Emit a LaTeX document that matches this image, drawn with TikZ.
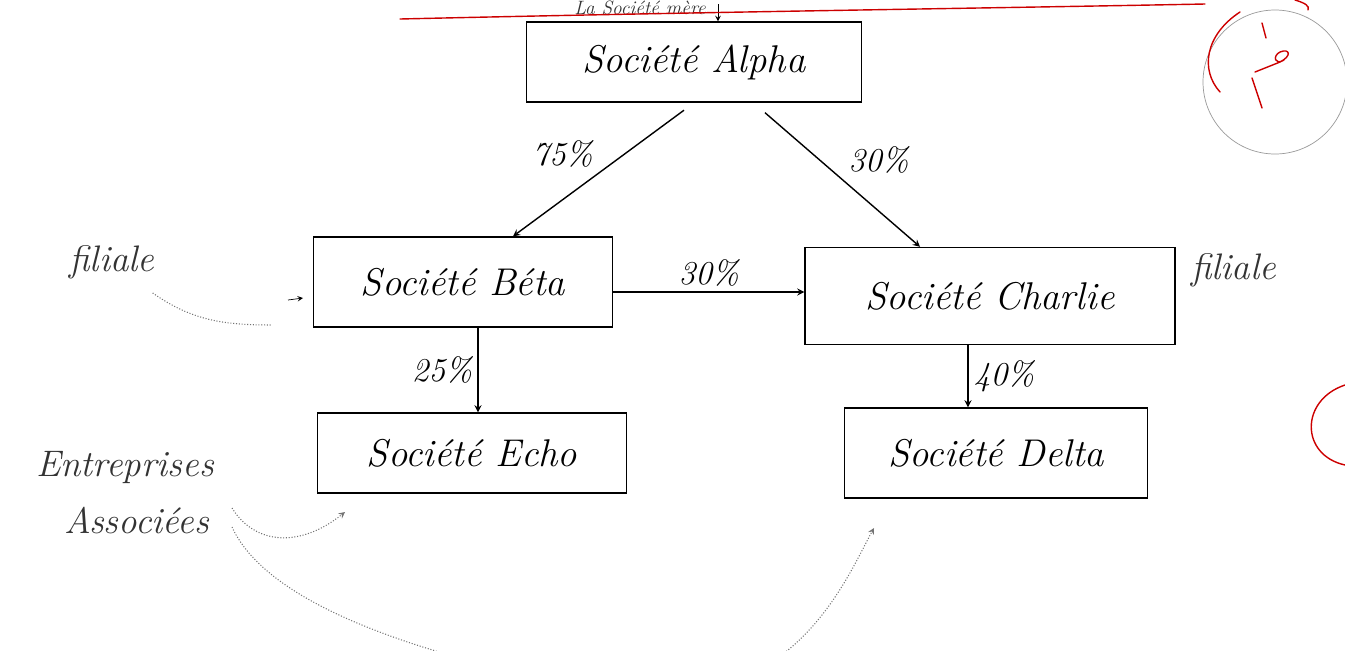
\documentclass[tikz,border=0pt]{standalone}
\usetikzlibrary{positioning,arrows}
\begin{document}
\begin{tikzpicture}[
x=0.02cm,y=-0.02cm,
>=stealth,
societe/.style={
	draw,
	thick,
	rectangle,
	inner sep=0pt,
	font=\fontsize{22}{26}\selectfont\itshape
},
share/.style={
	->,
	thick
},
pct/.style={
	font=\fontsize{19}{22}\selectfont\itshape,
	inner sep=3pt
},
note/.style={
	font=\fontsize{21}{25}\selectfont\itshape,
	text=black!80
},
hint/.style={
	black!55,
	densely dotted,
	semithick
},
correction/.style={
	red!80!black,
	thick,
	line cap=round
}
]
\useasboundingbox (0,0) rectangle (1345,650);

% the companies
\node[societe,minimum width=6.7cm,minimum height=1.6cm] (alpha) at (694,62) {Société Alpha};
\node[societe,minimum width=5.98cm,minimum height=1.8cm] (beta) at (463,282) {Société Béta};
\node[societe,minimum width=7.4cm,minimum height=1.94cm] (charlie) at (990,296) {Société Charlie};
\node[societe,minimum width=6.18cm,minimum height=1.6cm] (echo) at (472,453) {Société Echo};
\node[societe,minimum width=6.06cm,minimum height=1.8cm] (delta) at (996,453) {Société Delta};

% holdings
\draw[share] ([xshift=-0.2cm,yshift=-0.15cm]alpha.south) -- ([xshift=1cm]beta.north)
	node[pct,midway,above left] (p75) {75\%};
\draw[share] ([xshift=1.42cm,yshift=-0.2cm]alpha.south) -- ([xshift=-1.4cm]charlie.north)
	node[pct,midway,above right] (p30a) {30\%};
\draw[share] (beta.east |- 0,292) -- (charlie.west |- 0,292)
	node[pct,midway,above] (p30b) {30\%};
\draw[share] ([xshift=0.3cm]beta.south) -- ([xshift=0.3cm]beta.south |- echo.north)
	node[pct,midway,left] (p25) {25\%};
\draw[share] ([xshift=-0.44cm]charlie.south) -- ([xshift=-0.44cm]charlie.south |- delta.north)
	node[pct,midway,right] (p40) {40\%};

% notes in the margin
\node[note,font=\fontsize{11}{13}\selectfont\itshape,inner sep=1pt] (mere) at (640,8) {La Société mère};
\draw[->,thin] (718,4) -- (alpha.north -| 718,0);
\node[note] (fil1) at (112,262) {filiale};
\node[note,anchor=west] (fil2) at (1185,270) {filiale};
\node[note,anchor=west] (ent) at (30,468) {Entreprises};
\node[note,anchor=west] (ass) at (58,520) {Associées};
\coordinate (tobeta) at (303,298);
\coordinate (toecho) at (345,512);
\coordinate (todelta) at (874,528);
\draw[hint] (fil1.south east) ++(-8,8) to[out=-35,in=180] (272,325);
\draw[->,thin] (288,300) -- (tobeta);
\draw[hint,->] (232,508) .. controls (255,545) and (300,548) .. (toecho);
\draw[hint,->] (232,527) .. controls (270,610) and (440,660) .. (600,690)
	.. controls (790,725) and (845,580) .. (todelta);

% teacher marks
\draw[correction] (400,19) .. controls (700,12) and (1000,8) .. (1205,4);
\draw[black!40,thin] (1275,82) ellipse (72 and 72);
\draw[correction] (1240,12) .. controls (1205,35) and (1200,70) .. (1220,92);
\draw[correction] (1295,0) .. controls (1305,3) and (1310,6) .. (1308,10);
\draw[correction] (1262,23) -- (1266,38);
\draw[correction] (1252,78) -- (1262,108);
\draw[correction] (1255,72) -- (1280,62) .. controls (1292,56) and (1290,48) .. (1280,52)
	.. controls (1272,56) and (1275,66) .. (1284,60);
\draw[correction] (1345,385) .. controls (1300,400) and (1300,455) .. (1345,465);
\end{tikzpicture}
\end{document}
